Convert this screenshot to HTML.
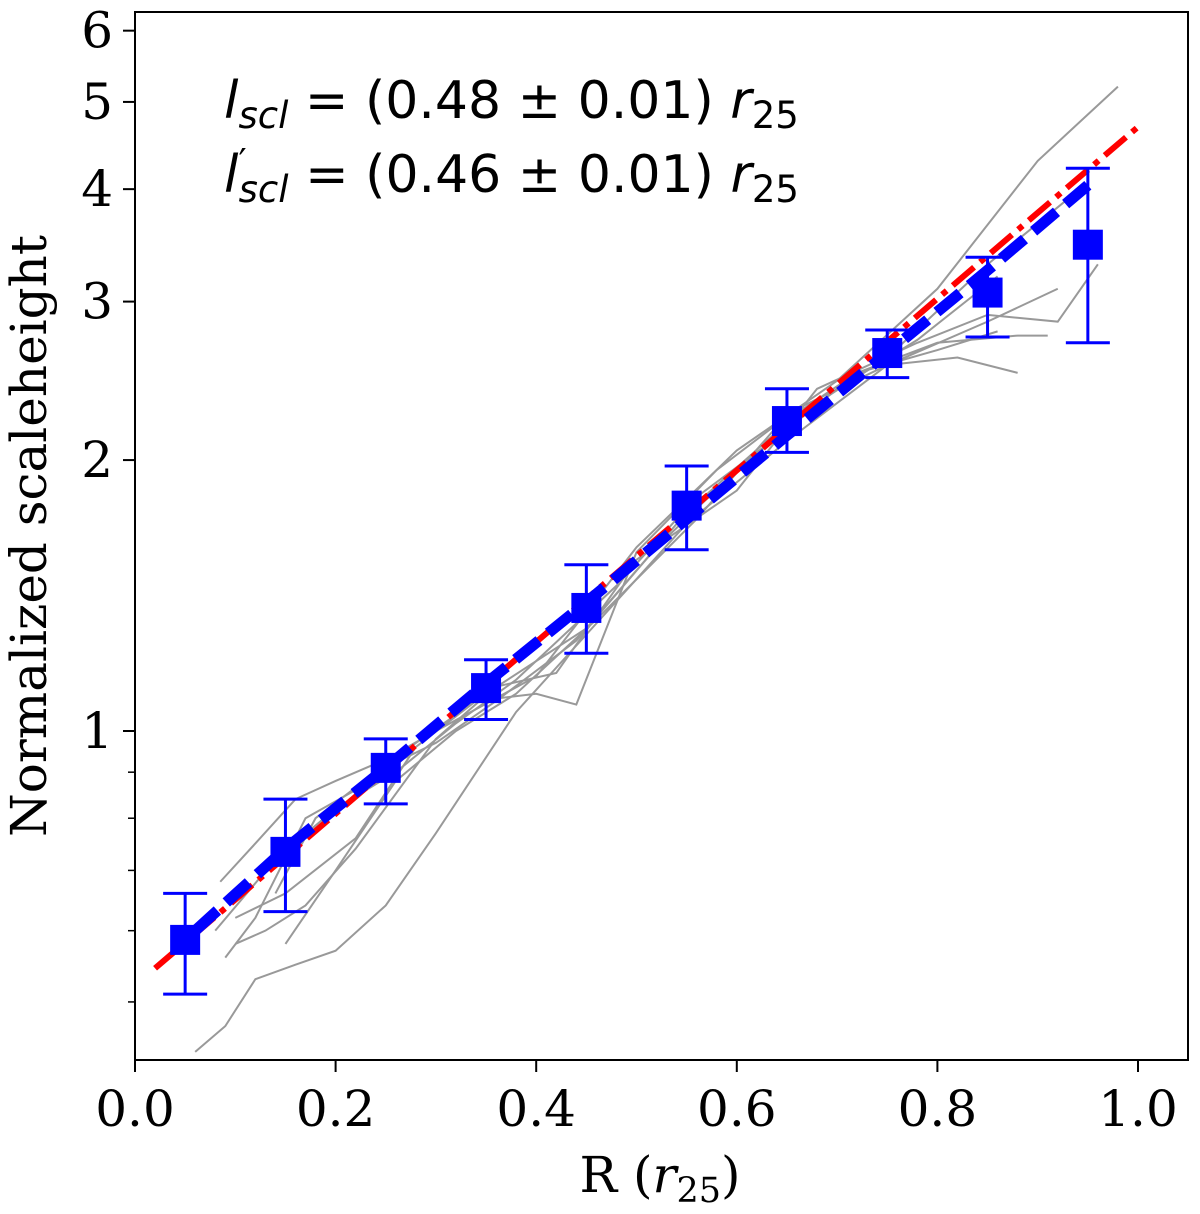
<!DOCTYPE html>
<html><head><meta charset="utf-8"><style>
body{margin:0;background:#fff}
svg{display:block}
text{font-family:"DejaVu Serif","Liberation Serif",serif;fill:#000}
.ann{font-family:"DejaVu Sans","Liberation Sans",sans-serif;font-size:52px}
</style></head><body>
<svg id="c" width="1200" height="1214">
<g id="plot"></g>
<text class="ann" x="224" y="118"><tspan font-style="italic">l</tspan><tspan font-style="italic" font-size="37" dy="10">scl</tspan><tspan dy="-10"> = (0.48 ± 0.01) </tspan><tspan font-style="italic">r</tspan><tspan font-size="37" dy="10">25</tspan></text>
<text class="ann" x="224" y="192"><tspan font-style="italic">l</tspan><tspan font-size="36" dy="-18">′</tspan><tspan font-style="italic" font-size="37" dy="28" dx="-8">scl</tspan><tspan dy="-10"> = (0.46 ± 0.01) </tspan><tspan font-style="italic">r</tspan><tspan font-size="37" dy="10">25</tspan></text>
<text x="660" y="1192" font-size="50" text-anchor="middle">R (<tspan font-style="italic">r</tspan><tspan font-size="35" dy="10">25</tspan><tspan dy="-10">)</tspan></text>
<text transform="translate(46,536) rotate(-90)" font-size="50" text-anchor="middle">Normalized scaleheight</text>
</svg>
<script>
const xTicks=[0,0.2,0.4,0.6,0.8,1.0];
const xTickLabels=["0.0","0.2","0.4","0.6","0.8","1.0"];
const yMajor=[1,2,3,4,5,6];
const yMinor=[0.5,0.6,0.7,0.8,0.9];
const binR=[0.05,0.15,0.25,0.35,0.45,0.55,0.65,0.75,0.85,0.95];
const binVal=[0.586,0.734,0.91,1.116,1.37,1.78,2.21,2.63,3.07,3.47];
const errHi=[0.66,0.84,0.98,1.2,1.53,1.97,2.4,2.79,3.36,4.22];
const errLo=[0.51,0.63,0.83,1.03,1.22,1.59,2.04,2.47,2.74,2.7];
const redR=[0.02,1.0];
const redV=[0.545,4.69];
const blueR=[0.06,0.15,0.25,0.35,0.45,0.55,0.65,0.75,0.85,0.95];
const blueV=[0.6,0.74,0.91,1.13,1.39,1.72,2.13,2.63,3.25,4.04];
const grey=[
 [[0.085,0.68],[0.12,0.75],[0.16,0.84],[0.2,0.88],[0.25,0.93],[0.3,1.0],[0.4,1.15],[0.5,1.6],[0.6,2.05],[0.7,2.45],[0.8,3.1],[0.9,4.3],[0.98,5.2]],
 [[0.09,0.56],[0.12,0.62],[0.17,0.8],[0.22,0.86],[0.28,0.97],[0.35,1.1],[0.45,1.3],[0.55,1.75],[0.65,2.2],[0.75,2.6],[0.85,3.3],[0.93,3.9]],
 [[0.1,0.58],[0.13,0.6],[0.17,0.64],[0.22,0.74],[0.3,0.98],[0.36,1.12],[0.42,1.16],[0.5,1.55],[0.6,1.85],[0.68,2.4],[0.78,2.7],[0.85,2.9],[0.92,2.85],[0.96,3.3]],
 [[0.06,0.44],[0.09,0.47],[0.12,0.53],[0.16,0.55],[0.2,0.57],[0.25,0.64],[0.3,0.77],[0.38,1.05],[0.45,1.28],[0.55,1.7],[0.65,2.1],[0.75,2.55],[0.85,2.85],[0.92,3.1]],
 [[0.1,0.62],[0.15,0.66],[0.22,0.76],[0.28,0.96],[0.34,1.08],[0.4,1.1],[0.44,1.07],[0.5,1.58],[0.58,1.95],[0.66,2.28],[0.75,2.55],[0.82,2.6],[0.88,2.5]],
 [[0.08,0.6],[0.14,0.72],[0.2,0.82],[0.26,0.9],[0.32,1.02],[0.38,1.14],[0.48,1.45],[0.56,1.82],[0.64,2.12],[0.72,2.5],[0.8,2.7],[0.88,2.75],[0.91,2.75]],
 [[0.14,0.66],[0.18,0.8],[0.24,0.9],[0.3,0.97],[0.36,1.08],[0.44,1.26],[0.52,1.6],[0.6,1.95],[0.7,2.4],[0.78,2.72],[0.86,3.2]],
 [[0.15,0.58],[0.2,0.7],[0.26,0.88],[0.32,1.0],[0.38,1.1],[0.46,1.33],[0.56,1.72],[0.64,2.18],[0.72,2.5],[0.8,2.65],[0.86,2.78]]
];
const X0=135,X1=1188,Y0=12,Y1=1060;
const xs=v=>135+v*1003;
const ys=v=>731-Math.log10(v)*900;
const NS="http://www.w3.org/2000/svg";
const g=document.getElementById('plot');
function mk(t,a,p){const e=document.createElementNS(NS,t);for(const k in a)e.setAttribute(k,a[k]);(p||g).appendChild(e);return e;}
const cp=mk('clipPath',{id:'clip'});mk('rect',{x:X0,y:Y0,width:X1-X0,height:Y1-Y0},cp);
const inner=mk('g',{'clip-path':'url(#clip)'});


grey.forEach((ln,i)=>{
 const p=mk('polyline',{points:ln.map(q=>xs(q[0])+','+ys(q[1])).join(' '),fill:'none',stroke:'#999','stroke-width':2},inner);
 
 
});
const red=mk('polyline',{points:redR.map((r,i)=>xs(r)+','+ys(redV[i])).join(' '),fill:'none',stroke:'#f00','stroke-width':6,'stroke-dasharray':'28 8 6 8'},inner);


binR.forEach((r,i)=>{
 const x=xs(r);
 const eb=mk('path',{d:`M${x},${ys(errHi[i])}V${ys(errLo[i])}M${x-22},${ys(errHi[i])}h44M${x-22},${ys(errLo[i])}h44`,stroke:'#00f','stroke-width':3,fill:'none'},inner);
 
 
});
const blue=mk('polyline',{points:blueR.map((r,i)=>xs(r)+','+ys(blueV[i])).join(' '),fill:'none',stroke:'#00f','stroke-width':11,'stroke-dasharray':'30 12'},inner);


binR.forEach((r,i)=>{
 const s=mk('rect',{x:xs(r)-15,y:ys(binVal[i])-15,width:30,height:30,fill:'#00f'},inner);
 
 
});
const fr=mk('rect',{x:X0,y:Y0,width:X1-X0,height:Y1-Y0,fill:'none',stroke:'#000','stroke-width':2});


xTicks.forEach((v,i)=>{
 mk('line',{x1:xs(v),x2:xs(v),y1:Y1,y2:Y1+12,stroke:'#000','stroke-width':2});
 const t=mk('text',{x:xs(v),y:Y1+66,'font-size':50,'text-anchor':'middle'});t.textContent=xTickLabels[i];
 
 
});
yMajor.forEach(v=>{
 mk('line',{x1:X0-12,x2:X0,y1:ys(v),y2:ys(v),stroke:'#000','stroke-width':2});
 const t=mk('text',{x:X0-22,y:ys(v)+17,'font-size':50,'text-anchor':'end'});t.textContent=String(v);
 
 
});
yMinor.forEach(v=>mk('line',{x1:X0-7,x2:X0,y1:ys(v),y2:ys(v),stroke:'#000','stroke-width':1.5}));
</script>
</body></html>
